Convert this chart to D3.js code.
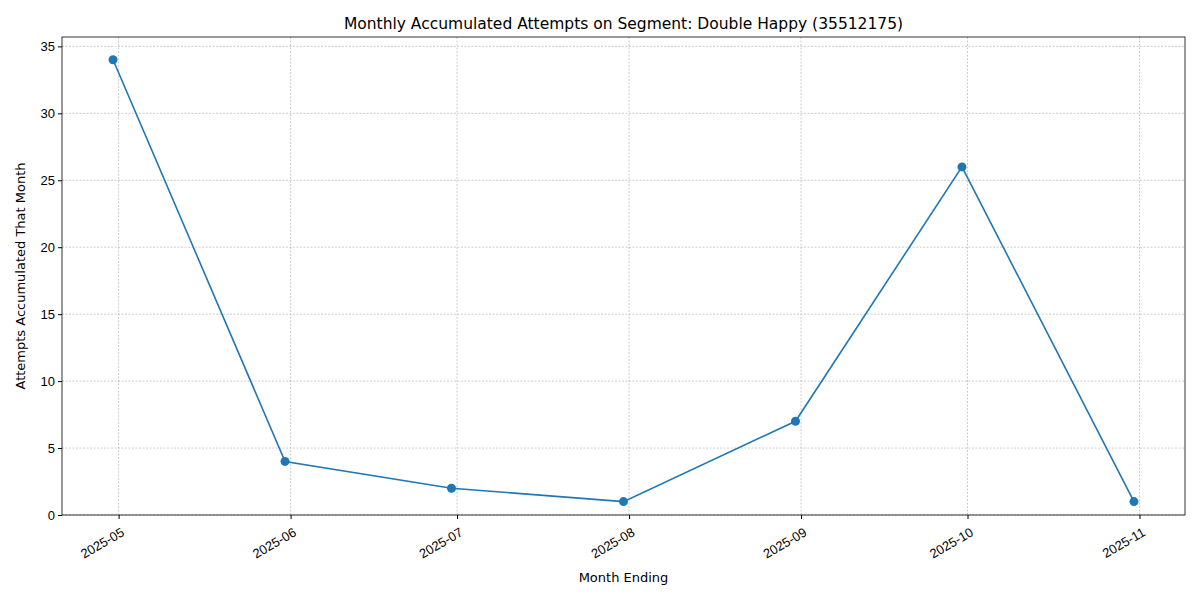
<!DOCTYPE html>
<html><head><meta charset="utf-8">
<script src="https://cdn.jsdelivr.net/npm/d3@7"></script>
<style>body{margin:0;background:#fff;font-family:"DejaVu Sans",sans-serif}</style>
</head><body><svg id="chart" width="1200" height="600"></svg>
<script>
// month-end dates and attempts accumulated that month
const dates = ['2025-04-30','2025-05-31','2025-06-30','2025-07-31','2025-08-31','2025-09-30','2025-10-31'];
const attempts = [34, 4, 2, 1, 7, 26, 1];
const tickDates = ['2025-05-01','2025-06-01','2025-07-01','2025-08-01','2025-09-01','2025-10-01','2025-11-01'];
const yTicks = [0, 5, 10, 15, 20, 25, 30, 35];

const parse = d3.utcParse('%Y-%m-%d');
const data = dates.map((d, i) => ({x: parse(d), y: attempts[i]}));
const m = {left: 62, right: 1185, top: 37, bottom: 515};
const svg = d3.select('#chart');

const x0 = data[0].x, x1 = data[data.length - 1].x, pad = (x1 - x0) * 0.05;
const x = d3.scaleUtc().domain([new Date(+x0 - pad), new Date(+x1 + pad)]).range([m.left, m.right]);
const y = d3.scaleLinear().domain([0, 35.7]).range([m.bottom, m.top]);

// grid
const g = svg.append('g');
tickDates.forEach(t => g.append('line').attr('x1', x(parse(t))).attr('x2', x(parse(t)))
  .attr('y1', m.top).attr('y2', m.bottom));
yTicks.forEach(t => g.append('line').attr('x1', m.left).attr('x2', m.right)
  .attr('y1', y(t)).attr('y2', y(t)));
g.selectAll('line').attr('stroke', '#999').attr('stroke-width', 0.5).attr('stroke-dasharray', '2,1.5');

// axes
const xa = svg.append('g').attr('transform', `translate(0,${m.bottom})`)
  .call(d3.axisBottom(x).tickValues(tickDates.map(parse)).tickFormat(d3.utcFormat('%Y-%m')).tickSizeOuter(0).tickSize(4));
xa.selectAll('text').attr('font-size', 13).attr('fill', '#000').attr('y', 0).attr('dy', '0.35em')
  .attr('text-anchor', 'end').attr('transform', 'translate(4,16) rotate(-30)');
const ya = svg.append('g').attr('transform', `translate(${m.left},0)`)
  .call(d3.axisLeft(y).tickValues(yTicks).tickSizeOuter(0).tickSize(4));
ya.selectAll('text').attr('font-size', 13).attr('fill', '#000');
svg.selectAll('.domain').remove();
svg.append('rect').attr('x', m.left).attr('y', m.top).attr('width', m.right - m.left)
  .attr('height', m.bottom - m.top).attr('fill', 'none').attr('stroke', '#000').attr('stroke-width', 0.8);

// line + markers
svg.append('path').datum(data).attr('fill', 'none').attr('stroke', '#1f77b4').attr('stroke-width', 1.6)
  .attr('d', d3.line().x(d => x(d.x)).y(d => y(d.y)));
svg.selectAll('circle.pt').data(data).enter().append('circle').attr('class', 'pt')
  .attr('cx', d => x(d.x)).attr('cy', d => y(d.y)).attr('r', 4.5).attr('fill', '#1f77b4');

// labels
svg.append('text').attr('x', (m.left + m.right) / 2).attr('y', 29).attr('text-anchor', 'middle')
  .attr('font-size', 15.5).text('Monthly Accumulated Attempts on Segment: Double Happy (35512175)');
svg.append('text').attr('x', (m.left + m.right) / 2).attr('y', 582).attr('text-anchor', 'middle')
  .attr('font-size', 13).text('Month Ending');
svg.append('text').attr('transform', `translate(25,${(m.top + m.bottom) / 2}) rotate(-90)`)
  .attr('text-anchor', 'middle').attr('font-size', 13).text('Attempts Accumulated That Month');
</script></body></html>
